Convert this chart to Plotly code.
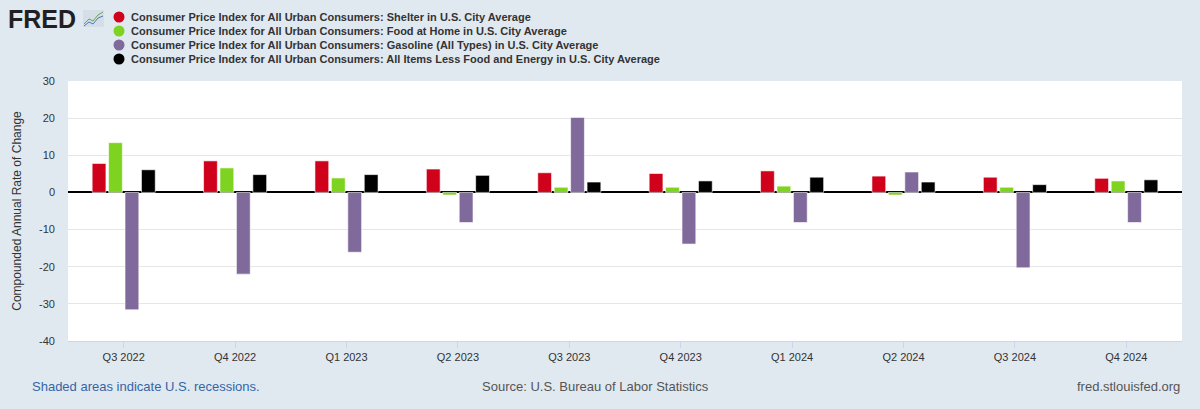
import plotly.graph_objects as go

quarters = ["Q3 2022", "Q4 2022", "Q1 2023", "Q2 2023", "Q3 2023",
            "Q4 2023", "Q1 2024", "Q2 2024", "Q3 2024", "Q4 2024"]
shelter = [7.8, 8.5, 8.5, 6.3, 5.3, 5.1, 5.8, 4.4, 4.1, 3.8]
food_home = [13.4, 6.6, 3.9, -0.7, 1.4, 1.4, 1.7, -0.7, 1.4, 3.1]
gasoline = [-31.6, -22.0, -16.1, -8.1, 20.2, -13.9, -8.1, 5.5, -20.3, -8.1]
core = [6.1, 4.8, 4.8, 4.6, 2.8, 3.1, 4.1, 2.8, 2.1, 3.4]

series_names = [
    "Consumer Price Index for All Urban Consumers: Shelter in U.S. City Average",
    "Consumer Price Index for All Urban Consumers: Food at Home in U.S. City Average",
    "Consumer Price Index for All Urban Consumers: Gasoline (All Types) in U.S. City Average",
    "Consumer Price Index for All Urban Consumers: All Items Less Food and Energy in U.S. City Average",
]
colors = ["#d0021b", "#7ed321", "#80699b", "#000000"]
y_ticks = [-40, -30, -20, -10, 0, 10, 20, 30]

FONT = "Liberation Sans, Arial, sans-serif"

fig = go.Figure()
for name, vals, col in zip(series_names, [shelter, food_home, gasoline, core], colors):
    fig.add_trace(go.Bar(
        x=quarters, y=vals, name=name, showlegend=False,
        marker=dict(color=col, line=dict(color="rgba(255,255,255,0.6)", width=1)),
    ))

# plot area geometry in pixels (for placing page furniture)
L, R, T, B = 68, 1182, 81, 341
W, H = R - L, B - T
def px(x):
    return (x - L) / W
def py(y):
    return (B - y) / H

annotations = []
shapes = []
rows_y = [17, 31, 45, 59]
for name, col, ry in zip(series_names, colors, rows_y):
    annotations.append(dict(
        xref="paper", yref="paper", x=px(129), y=py(ry), xanchor="left", yanchor="middle",
        text=name, showarrow=False,
        font=dict(family=FONT, size=11, color="#333333", weight="bold"),
    ))
    shapes.append(dict(
        type="circle", xref="paper", yref="paper", xsizemode="pixel", ysizemode="pixel",
        xanchor=px(119), yanchor=py(ry), x0=-5.5, x1=5.5, y0=-5.5, y1=5.5,
        fillcolor=col, line=dict(width=0),
    ))

# FRED logo
annotations.append(dict(
    xref="paper", yref="paper", x=px(6), y=py(19), xanchor="left", yanchor="middle",
    text="<b>FRED</b>", showarrow=False,
    font=dict(family=FONT, size=25, color="#231f20"),
))
shapes.append(dict(type="rect", xref="paper", yref="paper",
                   x0=px(83), x1=px(104), y0=py(27), y1=py(10),
                   fillcolor="#d5dde6", line=dict(width=0)))
shapes.append(dict(type="path", xref="paper", yref="paper",
                   path="M {} {} L {} {} L {} {} L {} {} L {} {}".format(
                       px(84), py(24), px(89), py(19), px(93), py(21), px(98), py(15), px(103), py(12)),
                   line=dict(color="#6aa84f", width=1)))
shapes.append(dict(type="path", xref="paper", yref="paper",
                   path="M {} {} L {} {} L {} {} L {} {} L {} {}".format(
                       px(84), py(26), px(89), py(22), px(93), py(24), px(98), py(18), px(103), py(16)),
                   line=dict(color="#4a7ab5", width=1)))

# footer
annotations.append(dict(
    xref="paper", yref="paper", x=px(30), y=py(386), xanchor="left", yanchor="middle",
    text="Shaded areas indicate U.S. recessions.", showarrow=False,
    font=dict(family=FONT, size=13, color="#3465a8"),
))
annotations.append(dict(
    xref="paper", yref="paper", x=px(595), y=py(386), xanchor="center", yanchor="middle",
    text="Source: U.S. Bureau of Labor Statistics", showarrow=False,
    font=dict(family=FONT, size=13, color="#555555"),
))
annotations.append(dict(
    xref="paper", yref="paper", x=px(1182), y=py(386), xanchor="right", yanchor="middle",
    text="fred.stlouisfed.org", showarrow=False,
    font=dict(family=FONT, size=13, color="#555555"),
))

fig.update_layout(
    width=1200, height=409,
    margin=dict(l=L, r=1200 - R, t=T, b=409 - B, autoexpand=False),
    paper_bgcolor="#e1e9f0", plot_bgcolor="#ffffff",
    barmode="group", bargap=0.41, bargroupgap=0.16,
    font=dict(family=FONT, size=11, color="#333333"),
    annotations=annotations, shapes=shapes,
    xaxis=dict(
        type="category", showgrid=False, showline=True, linecolor="#ccd6eb", linewidth=1,
        ticks="outside", ticklen=6, tickcolor="#ccd6eb",
        tickfont=dict(family=FONT, size=11, color="#333333"),
        fixedrange=True,
    ),
    yaxis=dict(
        range=[-40, 30], tickvals=y_ticks, ticktext=[str(v) for v in y_ticks],
        showgrid=True, gridcolor="#e6e6e6", gridwidth=1,
        zeroline=True, zerolinecolor="#000000", zerolinewidth=2,
        ticklabelstandoff=12,
        tickfont=dict(family=FONT, size=11, color="#333333"),
        title=dict(text="Compounded Annual Rate of Change",
                   font=dict(family=FONT, size=12, color="#333333"), standoff=14),
        fixedrange=True,
    ),
)

fig.write_html(
    "out.html",
    config={"displayModeBar": False},
    post_script="document.body.style.margin='0';document.body.style.background='#e1e9f0';",
)
